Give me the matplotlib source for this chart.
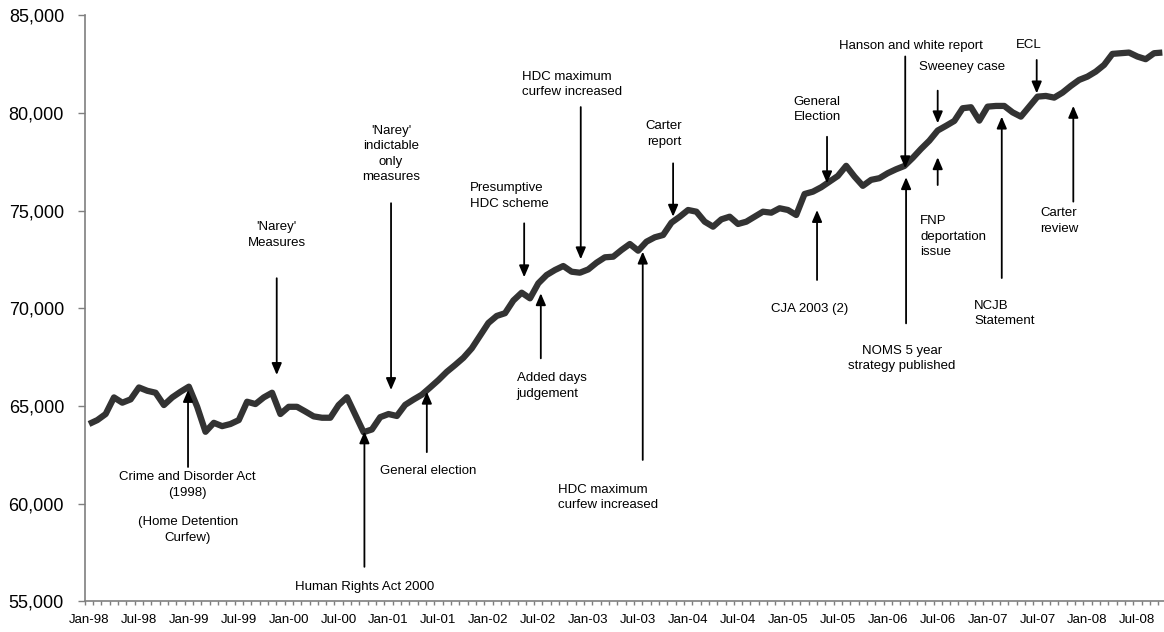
import numpy as np
import matplotlib
matplotlib.use("Agg")
import matplotlib.pyplot as plt
from matplotlib.ticker import StrMethodFormatter, FixedLocator

plt.rcParams['font.family'] = ['Liberation Sans', 'DejaVu Sans']

# monthly population, Jan-98 .. Oct-08
population = [
    64080, 64280, 64590, 65440, 65170, 65340, 65950, 65780, 65680, 65050, 65440, 65730,
    65990, 64960, 63680, 64140, 63970, 64080, 64280, 65220, 65100, 65440, 65680, 64590,
    64960, 64960, 64720, 64470, 64400, 64400, 65050, 65450, 64560, 63660, 63800, 64430,
    64590, 64490, 65060, 65330, 65580, 65950, 66330, 66750, 67100, 67470, 67950, 68600,
    69250, 69610, 69750, 70400, 70800, 70510, 71280, 71705, 71961, 72166, 71874, 71823,
    71990, 72335, 72611, 72642, 72985, 73292, 72949, 73410, 73635, 73753, 74383, 74690,
    75033, 74946, 74434, 74178, 74553, 74690, 74316, 74434, 74690, 74946, 74895, 75121,
    75033, 74777, 75852, 75970, 76195, 76482, 76774, 77293, 76744, 76268, 76575, 76661,
    76917, 77117, 77286, 77700, 78160, 78580, 79100, 79340, 79590, 80240, 80291, 79605,
    80322, 80358, 80358, 80030, 79810, 80322, 80834, 80870, 80783, 81039, 81382, 81690,
    81859, 82115, 82458, 83022, 83056, 83090, 82886, 82750, 83056, 83090,
]
months = np.arange(len(population))

tick_labels = [f"{m}-{y:02d}" for y in [98, 99, 0, 1, 2, 3, 4, 5, 6, 7, 8] for m in ["Jan", "Jul"]]
tick_months = months[::6][:len(tick_labels)]

# event labels: text, month, value, alignment
notes = [
    ("Crime and Disorder Act\n(1998)", 11.86, 60970, 'center'),
    ("(Home Detention\nCurfew)", 11.86, 58650, 'center'),
    ("'Narey'\nMeasures", 22.56, 73750, 'center'),
    ("Human Rights Act 2000", 33.1, 55750, 'center'),
    ("'Narey'\nindictable\nonly\nmeasures", 36.3, 77900, 'center'),
    ("General election", 40.8, 61690, 'center'),
    ("Presumptive\nHDC scheme", 45.8, 75760, 'left'),
    ("Added days\njudgement", 51.4, 66020, 'left'),
    ("HDC maximum\ncurfew increased", 52.0, 81450, 'left'),
    ("HDC maximum\ncurfew increased", 56.4, 60315, 'left'),
    ("Carter\nreport", 69.1, 78910, 'center'),
    ("CJA 2003 (2)", 86.6, 69960, 'center'),
    ("General\nElection", 87.5, 80170, 'center'),
    ("Hanson and white report", 98.8, 83430, 'center'),
    ("NOMS 5 year\nstrategy published", 97.7, 67430, 'center'),
    ("Sweeney case", 104.9, 82370, 'center'),
    ("FNP\ndeportation\nissue", 99.9, 73660, 'left'),
    ("NCJB\nStatement", 106.4, 69730, 'left'),
    ("ECL", 113.0, 83480, 'center'),
    ("Carter\nreview", 114.3, 74470, 'left'),
]

# event arrows: month, tail value, head value
arrows = [
    (11.9, 61880, 65820),
    (22.56, 71540, 66590),
    (33.1, 56770, 63700),
    (36.3, 75380, 65820),
    (40.6, 62640, 65730),
    (52.3, 74350, 71590),
    (54.3, 67440, 70770),
    (59.1, 80300, 72510),
    (66.55, 62240, 72900),
    (70.2, 77420, 74690),
    (87.5, 71450, 75030),
    (88.7, 78780, 76400),
    (98.1, 82890, 77170),
    (98.2, 69230, 76710),
    (102.0, 81140, 79470),
    (102.0, 76310, 77730),
    (109.7, 71550, 79810),
    (113.9, 82710, 81000),
    (118.3, 75460, 80360),
]

fig = plt.figure(figsize=(11.64, 6.32), dpi=100)
ax = fig.add_axes([0.0729, 0.0484, 0.9271, 0.9275])

ax.plot(months, population, color='#333333', lw=4.5, solid_joinstyle='round',
        solid_capstyle='butt', zorder=3)

for x, tail, head in arrows:
    ax.annotate('', xy=(x, head), xytext=(x, tail),
                arrowprops=dict(arrowstyle='-|>,head_length=0.7,head_width=0.3',
                                color='black', lw=1.3, shrinkA=0, shrinkB=0,
                                mutation_scale=10), zorder=4)

for text, x, y, ha in notes:
    ax.text(x, y, text, ha=ha, va='center', multialignment=ha, fontsize=9.5,
            linespacing=1.4, color='black')

ax.set_xlim(-0.5, 129.2)
ax.set_ylim(55000, 85000)
ax.set_yticks(np.arange(55000, 85001, 5000))
ax.yaxis.set_major_formatter(StrMethodFormatter('{x:,.0f}'))
ax.tick_params(axis='y', direction='out', length=5, width=1, color='#7f7f7f',
               labelsize=13, pad=10)

ax.set_xticks(tick_months)
ax.set_xticklabels(tick_labels)
ax.xaxis.set_minor_locator(FixedLocator(np.arange(-0.5, 129.6, 1)))
ax.tick_params(axis='x', which='major', length=0, labelsize=9.5, pad=9)
ax.tick_params(axis='x', which='minor', direction='out', length=3, width=1, color='#7f7f7f')

for side in ['top', 'right']:
    ax.spines[side].set_visible(False)
for side in ['left', 'bottom']:
    ax.spines[side].set_color('#7f7f7f')
    ax.spines[side].set_linewidth(1.2)

plt.savefig('out.png', dpi=100)
